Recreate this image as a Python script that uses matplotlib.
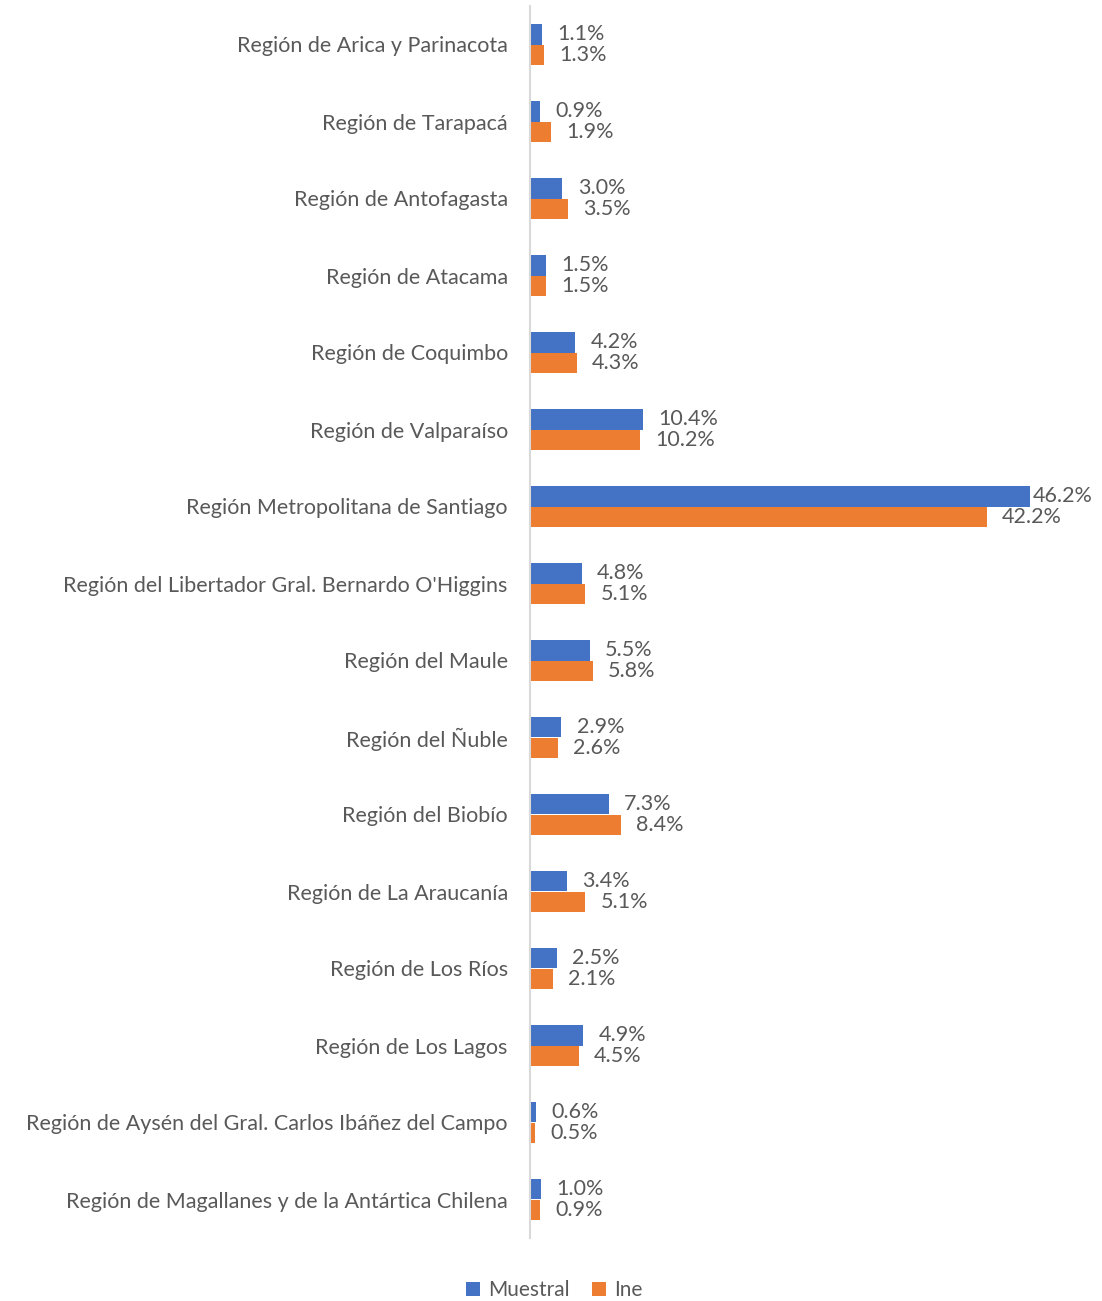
import numpy as np
import matplotlib.pyplot as plt

plt.rcParams['font.family'] = ['Lato', 'DejaVu Sans']

regiones = [
    "Región de Arica y Parinacota",
    "Región de Tarapacá",
    "Región de Antofagasta",
    "Región de Atacama",
    "Región de Coquimbo",
    "Región de Valparaíso",
    "Región Metropolitana de Santiago",
    "Región del Libertador Gral. Bernardo O'Higgins",
    "Región del Maule",
    "Región del Ñuble",
    "Región del Biobío",
    "Región de La Araucanía",
    "Región de Los Ríos",
    "Región de Los Lagos",
    "Región de Aysén del Gral. Carlos Ibáñez del Campo",
    "Región de Magallanes y de la Antártica Chilena",
]
muestral = [1.1, 0.9, 3.0, 1.5, 4.2, 10.4, 46.2, 4.8, 5.5, 2.9, 7.3, 3.4, 2.5, 4.9, 0.6, 1.0]
ine = [1.3, 1.9, 3.5, 1.5, 4.3, 10.2, 42.2, 5.1, 5.8, 2.6, 8.4, 5.1, 2.1, 4.5, 0.5, 0.9]

azul = '#4472C4'
naranja = '#ED7D31'
gris_txt = '#595959'
fs = 15.5

W, H = 1102, 1301
fig = plt.figure(figsize=(W / 100, H / 100), dpi=100)
# plot area in pixel coords: x 530..1030, y 6..1238 (from top)
ax = fig.add_axes([530 / W, 1 - 1238 / H, 500 / W, 1232 / H])

y = np.arange(len(regiones))
h = 0.26
ax.barh(y - h / 2, muestral, height=h, color=azul, label='Muestral')
ax.barh(y + h / 2, ine, height=h, color=naranja, label='Ine')

xmax = max(muestral)
ax.set_xlim(0, xmax)
ax.set_ylim(len(regiones) - 0.5, -0.5)


def etiqueta(v, yy):
    # the longest bar has no room on the right, so its label sits tight
    dx = 2 if v >= xmax else 11
    ax.annotate(f"{v:.1f}%", (v, yy), xytext=(dx, 0),
                textcoords='offset points', va='center', ha='left',
                fontsize=fs, color=gris_txt, annotation_clip=False)


for i in range(len(regiones)):
    etiqueta(muestral[i], y[i] - h / 2)
    etiqueta(ine[i], y[i] + h / 2)

ax.set_yticks(y)
ax.set_yticklabels(regiones, fontsize=fs, color=gris_txt)
ax.tick_params(axis='y', length=0, pad=16)
ax.set_xticks([])
for s in ['top', 'right', 'bottom']:
    ax.spines[s].set_visible(False)
ax.spines['left'].set_color('#D9D9D9')
ax.spines['left'].set_linewidth(1.5)

leg = fig.legend(loc='center', bbox_to_anchor=(0.503, 1 - 1290 / H), ncol=2, frameon=False,
                 fontsize=15, handlelength=0.65, handleheight=0.65, columnspacing=1.1,
                 handletextpad=0.4)
for t in leg.get_texts():
    t.set_color(gris_txt)

fig.savefig('out.png', dpi=100)
